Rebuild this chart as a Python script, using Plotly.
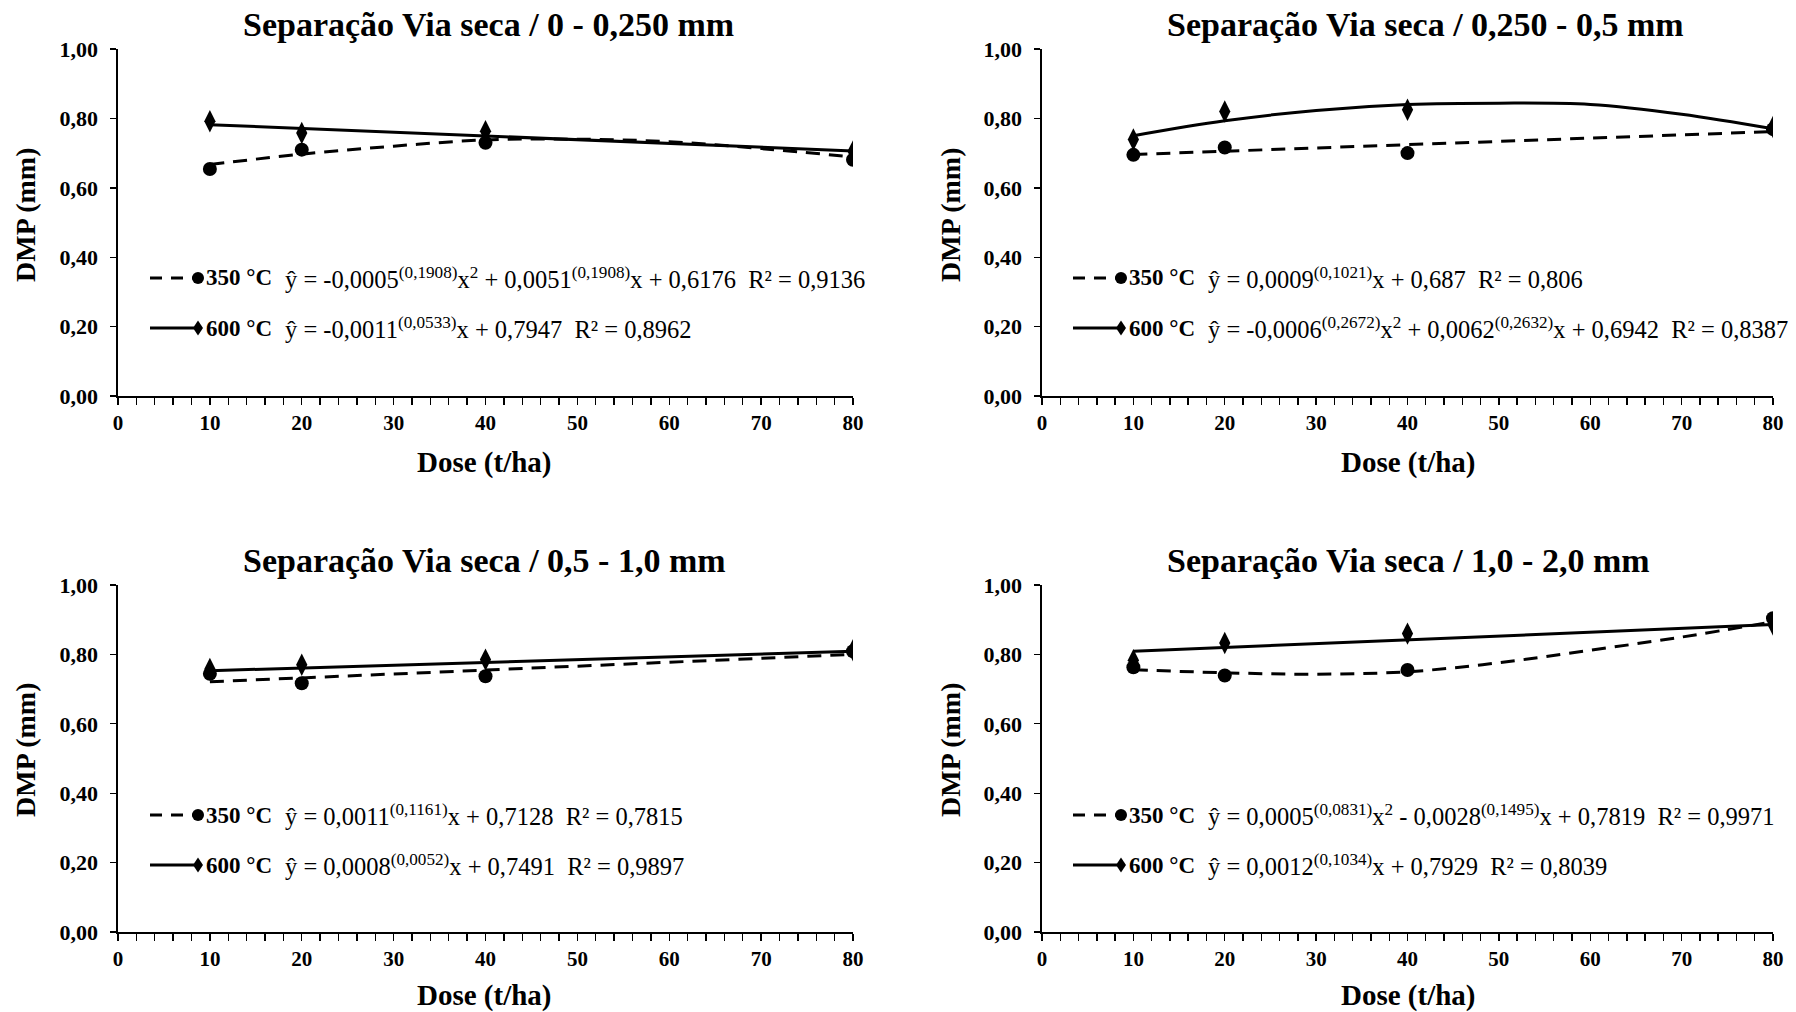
import plotly.graph_objects as go

# ---------------- data ----------------
doses = [10, 20, 40, 80]
curve_x = [10, 20, 30, 40, 50, 60, 70, 80]
line_x = [10, 80]
x_ticks = [0, 10, 20, 30, 40, 50, 60, 70, 80]
y_ticks = [0.0, 0.2, 0.4, 0.6, 0.8, 1.0]

titles = [
    "Separação Via seca / 0 - 0,250 mm",
    "Separação Via seca / 0,250 - 0,5 mm",
    "Separação Via seca / 0,5 - 1,0 mm",
    "Separação Via seca / 1,0 - 2,0 mm",
]
series_names = ["350 °C", "600 °C"]
x_title = "Dose (t/ha)"
y_title = "DMP (mm)"

# observed points
p1_350 = [0.654, 0.710, 0.730, 0.681]
p1_600 = [0.792, 0.758, 0.763, 0.705]
p2_350 = [0.695, 0.716, 0.700, 0.769]
p2_600 = [0.739, 0.820, 0.825, 0.775]
p3_350 = [0.744, 0.717, 0.737, 0.809]
p3_600 = [0.758, 0.770, 0.785, 0.812]
p4_350 = [0.763, 0.739, 0.755, 0.904]
p4_600 = [0.783, 0.833, 0.860, 0.886]

# fitted trend lines
f1_350 = [0.667, 0.697, 0.720, 0.738, 0.740, 0.733, 0.713, 0.689]
f1_600 = [0.782, 0.706]
f2_350 = [0.696, 0.762]
f2_600 = [0.750, 0.793, 0.823, 0.840, 0.844, 0.840, 0.812, 0.770]
f3_350 = [0.721, 0.800]
f3_600 = [0.753, 0.809]
f4_350 = [0.756, 0.747, 0.743, 0.750, 0.776, 0.812, 0.850, 0.894]
f4_600 = [0.809, 0.886]

eq_350 = [
    "ŷ = -0,0005<sup>(0,1908)</sup>x<sup>2</sup> + 0,0051<sup>(0,1908)</sup>x + 0,6176  R² = 0,9136",
    "ŷ = 0,0009<sup>(0,1021)</sup>x + 0,687  R² = 0,806",
    "ŷ = 0,0011<sup>(0,1161)</sup>x + 0,7128  R² = 0,7815",
    "ŷ = 0,0005<sup>(0,0831)</sup>x<sup>2</sup> - 0,0028<sup>(0,1495)</sup>x + 0,7819  R² = 0,9971",
]
eq_600 = [
    "ŷ = -0,0011<sup>(0,0533)</sup>x + 0,7947  R² = 0,8962",
    "ŷ = -0,0006<sup>(0,2672)</sup>x<sup>2</sup> + 0,0062<sup>(0,2632)</sup>x + 0,6942  R² = 0,8387",
    "ŷ = 0,0008<sup>(0,0052)</sup>x + 0,7491  R² = 0,9897",
    "ŷ = 0,0012<sup>(0,1034)</sup>x + 0,7929  R² = 0,8039",
]

panels = [
    dict(p350=p1_350, p600=p1_600, fx350=curve_x, f350=f1_350, fx600=line_x, f600=f1_600),
    dict(p350=p2_350, p600=p2_600, fx350=line_x, f350=f2_350, fx600=curve_x, f600=f2_600),
    dict(p350=p3_350, p600=p3_600, fx350=line_x, f350=f3_350, fx600=line_x, f600=f3_600),
    dict(p350=p4_350, p600=p4_600, fx350=curve_x, f350=f4_350, fx600=line_x, f600=f4_600),
]

# ---------------- layout geometry (page pixels -> paper fractions) ----------------
W, H = 1796, 1012
OFF = 0  # body margin removed by the post script below
def px(v):
    return (v - OFF) / W
def py(v):
    return 1 - (v - OFF) / H

x_dom = [[px(118), px(853)], [px(1042), px(1773)], [px(118), px(853)], [px(1042), px(1773)]]
y_dom = [[py(396), py(49)], [py(396), py(49)], [py(932), py(585)], [py(932), py(585)]]
title_pos = [(px(488), py(25)), (px(1425), py(25)), (px(484), py(560)), (px(1408), py(560))]
xt_pos = [(px(485), py(462)), (px(1408), py(462)), (px(485), py(995)), (px(1408), py(995))]
yt_pos = [(px(25), py(215)), (px(950), py(215)), (px(25), py(750)), (px(950), py(750))]
leg_line = [(px(150), px(194)), (px(1073), px(1117))]
leg_mark = [px(198), px(1121)]
leg_text = [px(204), px(1127)]
leg_eq = [px(283), px(1206)]
leg_rows = [(py(278), py(328)), (py(278), py(328)), (py(815), py(865)), (py(815), py(865))]

FONT = "Liberation Serif"
BLACK = "#000000"

fig = go.Figure()
layout = dict(
    width=W, height=H, autosize=False,
    margin=dict(l=0, r=0, t=0, b=0, pad=0, autoexpand=False),
    paper_bgcolor="white", plot_bgcolor="white",
    showlegend=False,
    separators=",.",
    font=dict(family=FONT, color=BLACK),
)
annotations = []
shapes = []

for i, pnl in enumerate(panels):
    n = "" if i == 0 else str(i + 1)
    xa, ya = "x" + n, "y" + n
    # fitted curves
    fig.add_trace(go.Scatter(
        x=pnl["fx350"], y=pnl["f350"], xaxis=xa, yaxis=ya, mode="lines",
        line=dict(color=BLACK, width=3, dash="14px,9px", shape="spline", smoothing=1.0),
        hoverinfo="skip"))
    fig.add_trace(go.Scatter(
        x=pnl["fx600"], y=pnl["f600"], xaxis=xa, yaxis=ya, mode="lines",
        line=dict(color=BLACK, width=3, shape="spline", smoothing=1.0),
        hoverinfo="skip"))
    # observed points
    fig.add_trace(go.Scatter(
        x=doses, y=pnl["p350"], xaxis=xa, yaxis=ya, mode="markers", name=series_names[0],
        marker=dict(symbol="circle", size=14, color=BLACK)))
    fig.add_trace(go.Scatter(
        x=doses, y=pnl["p600"], xaxis=xa, yaxis=ya, mode="markers", name=series_names[1],
        marker=dict(symbol="diamond-tall", size=16, color=BLACK)))

    layout["xaxis" + n] = dict(
        domain=x_dom[i], anchor=ya, range=[0, 80], tickvals=x_ticks, automargin=False,
        showline=True, linecolor=BLACK, linewidth=1.6, showgrid=False, zeroline=False,
        ticks="outside", ticklen=7, tickwidth=1.4, tickcolor=BLACK,
        minor=dict(dtick=2, ticks="outside", ticklen=7, tickwidth=1.4, tickcolor=BLACK, showgrid=False),
        tickfont=dict(family=FONT, size=21, weight="bold", color=BLACK),
        ticklabelstandoff=0, fixedrange=True,
    )
    layout["yaxis" + n] = dict(
        domain=y_dom[i], anchor=xa, range=[0, 1], tickvals=y_ticks, tickformat=".2f",
        automargin=False,
        showline=True, linecolor=BLACK, linewidth=1.6, showgrid=False, zeroline=False,
        ticks="outside", ticklen=6, tickwidth=1.4, tickcolor=BLACK,
        tickfont=dict(family=FONT, size=22, weight="bold", color=BLACK),
        ticklabelstandoff=8, fixedrange=True,
    )

    # titles
    annotations.append(dict(
        x=title_pos[i][0], y=title_pos[i][1], xref="paper", yref="paper",
        text="<b>%s</b>" % titles[i], showarrow=False, xanchor="center", yanchor="middle",
        font=dict(family=FONT, size=34, color=BLACK)))
    annotations.append(dict(
        x=xt_pos[i][0], y=xt_pos[i][1], xref="paper", yref="paper",
        text="<b>%s</b>" % x_title, showarrow=False, xanchor="center", yanchor="middle",
        font=dict(family=FONT, size=29, color=BLACK)))
    annotations.append(dict(
        x=yt_pos[i][0], y=yt_pos[i][1], xref="paper", yref="paper", textangle=-90,
        text="<b>%s</b>" % y_title, showarrow=False, xanchor="center", yanchor="middle",
        font=dict(family=FONT, size=28, color=BLACK)))

    # in-chart legend with equations
    col = i % 2
    for r, (nm, eq) in enumerate(zip(series_names, [eq_350[i], eq_600[i]])):
        yy = leg_rows[i][r]
        shapes.append(dict(
            type="line", xref="paper", yref="paper",
            x0=leg_line[col][0], x1=leg_line[col][1], y0=yy, y1=yy,
            line=dict(color=BLACK, width=3, dash="12px,9px" if r == 0 else "solid")))
        if r == 0:
            shapes.append(dict(
                type="circle", xref="paper", yref="paper", xsizemode="pixel", ysizemode="pixel",
                xanchor=leg_mark[col], yanchor=yy, x0=-6, x1=6, y0=-6, y1=6,
                fillcolor=BLACK, line=dict(color=BLACK, width=0)))
        else:
            shapes.append(dict(
                type="path", xref="paper", yref="paper", xsizemode="pixel", ysizemode="pixel",
                xanchor=leg_mark[col], yanchor=yy, path="M0,-7.5 L5,0 L0,7.5 L-5,0 Z",
                fillcolor=BLACK, line=dict(color=BLACK, width=0)))
        annotations.append(dict(
            x=leg_text[col], y=yy, xref="paper", yref="paper",
            text="<b>%s</b>" % nm, showarrow=False, xanchor="left", yanchor="middle",
            font=dict(family=FONT, size=23, color=BLACK)))
        annotations.append(dict(
            x=leg_eq[col], y=yy, xref="paper", yref="paper",
            text=eq, showarrow=False, xanchor="left", yanchor="middle",
            font=dict(family=FONT, size=24.5, color=BLACK)))

layout["annotations"] = annotations
layout["shapes"] = shapes
fig.update_layout(**layout)
fig.write_html(
    "out.html",
    config={"displayModeBar": False, "staticPlot": True},
    post_script="document.body.style.margin='0';document.body.style.overflow='hidden';",
)
